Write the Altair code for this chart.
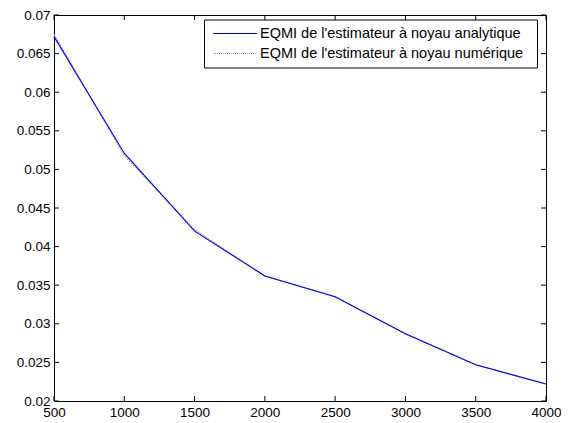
import altair as alt
import pandas as pd

# Data
n_values = [500, 1000, 1500, 2000, 2500, 3000, 3500, 4000]
eqmi_analytique = [0.0672, 0.0521, 0.0420, 0.0362, 0.0335, 0.0287, 0.0247, 0.0222]
eqmi_numerique = [0.0675, 0.0518, 0.0422, 0.0362, 0.0335, 0.0287, 0.0247, 0.0222]
series_names = ["EQMI de l'estimateur à noyau analytique",
                "EQMI de l'estimateur à noyau numérique"]
x_ticks = [500, 1000, 1500, 2000, 2500, 3000, 3500, 4000]
y_ticks = [0.02, 0.025, 0.03, 0.035, 0.04, 0.045, 0.05, 0.055, 0.06, 0.065, 0.07]

W, H = 492, 386
FONT = "Liberation Sans"
BLUE = "#0000e6"
GRAY = "#9a9a9a"

df_a = pd.DataFrame({"n": n_values, "eqmi": eqmi_analytique})
df_n = pd.DataFrame({"n": n_values, "eqmi": eqmi_numerique})

xscale = alt.Scale(domain=[500, 4000], nice=False, zero=False)
yscale = alt.Scale(domain=[0.02, 0.07], nice=False, zero=False)

xaxis = alt.Axis(values=x_ticks, format="d", ticks=False, domain=False, grid=False,
                 labelPadding=4, labelFontSize=13.5, labelFont=FONT, labelColor="black",
                 labelFlush=False, title=None)
yaxis = alt.Axis(values=y_ticks, format="~g", ticks=False, domain=False, grid=False,
                 labelPadding=4, labelFontSize=13.5, labelFont=FONT, labelColor="black",
                 labelFlush=False, title=None)

X = alt.X("n:Q", scale=xscale, axis=xaxis)
Y = alt.Y("eqmi:Q", scale=yscale, axis=yaxis)

line_num = alt.Chart(df_n).mark_line(color=GRAY, strokeWidth=1.2, strokeDash=[2, 1]).encode(
    x=X, y=Y)
line_ana = alt.Chart(df_a).mark_line(color=BLUE, strokeWidth=1.1).encode(x=X, y=Y)

dx = pd.DataFrame({"n": x_ticks})
dy = pd.DataFrame({"eqmi": y_ticks})
tick_style = dict(color="black", strokeWidth=1)
xt_bottom = alt.Chart(dx).mark_rule(**tick_style).encode(
    x=X, y=alt.value(H), y2=alt.value(H - 5))
xt_top = alt.Chart(dx).mark_rule(**tick_style).encode(
    x=X, y=alt.value(0), y2=alt.value(5))
yt_left = alt.Chart(dy).mark_rule(**tick_style).encode(
    y=Y, x=alt.value(0), x2=alt.value(5))
yt_right = alt.Chart(dy).mark_rule(**tick_style).encode(
    y=Y, x=alt.value(W), x2=alt.value(W - 5))

# Legend (MATLAB-style box)
one = pd.DataFrame({"a": [0]})
leg_box = alt.Chart(one).mark_rect(fill="white", stroke="black", strokeWidth=1).encode(
    x=alt.value(150.5), x2=alt.value(483.5), y=alt.value(5), y2=alt.value(53))
leg_line1 = alt.Chart(one).mark_rule(color=BLUE, strokeWidth=1.1).encode(
    x=alt.value(159), x2=alt.value(203), y=alt.value(18.5))
leg_line2 = alt.Chart(one).mark_rule(color=GRAY, strokeWidth=1.1, strokeDash=[1, 1]).encode(
    x=alt.value(159), x2=alt.value(203), y=alt.value(38.5))
leg_t1 = alt.Chart(pd.DataFrame({"label": [series_names[0]]})).mark_text(
    align="left", baseline="middle", font=FONT, fontSize=14.5, color="black").encode(
    x=alt.value(206), y=alt.value(18.5), text="label:N")
leg_t2 = alt.Chart(pd.DataFrame({"label": [series_names[1]]})).mark_text(
    align="left", baseline="middle", font=FONT, fontSize=14.5, color="black").encode(
    x=alt.value(206), y=alt.value(38.5), text="label:N")

chart = alt.layer(
    line_num, line_ana, xt_bottom, xt_top, yt_left, yt_right,
    leg_box, leg_line1, leg_line2, leg_t1, leg_t2,
).properties(
    width=W, height=H,
    autosize=alt.AutoSizeParams(type="none"),
    padding={"left": 46, "top": 7, "right": 15, "bottom": 18},
    background="white",
).configure_view(stroke="black", strokeWidth=1)

chart.save("out.html", embed_options={"renderer": "svg", "actions": False})
